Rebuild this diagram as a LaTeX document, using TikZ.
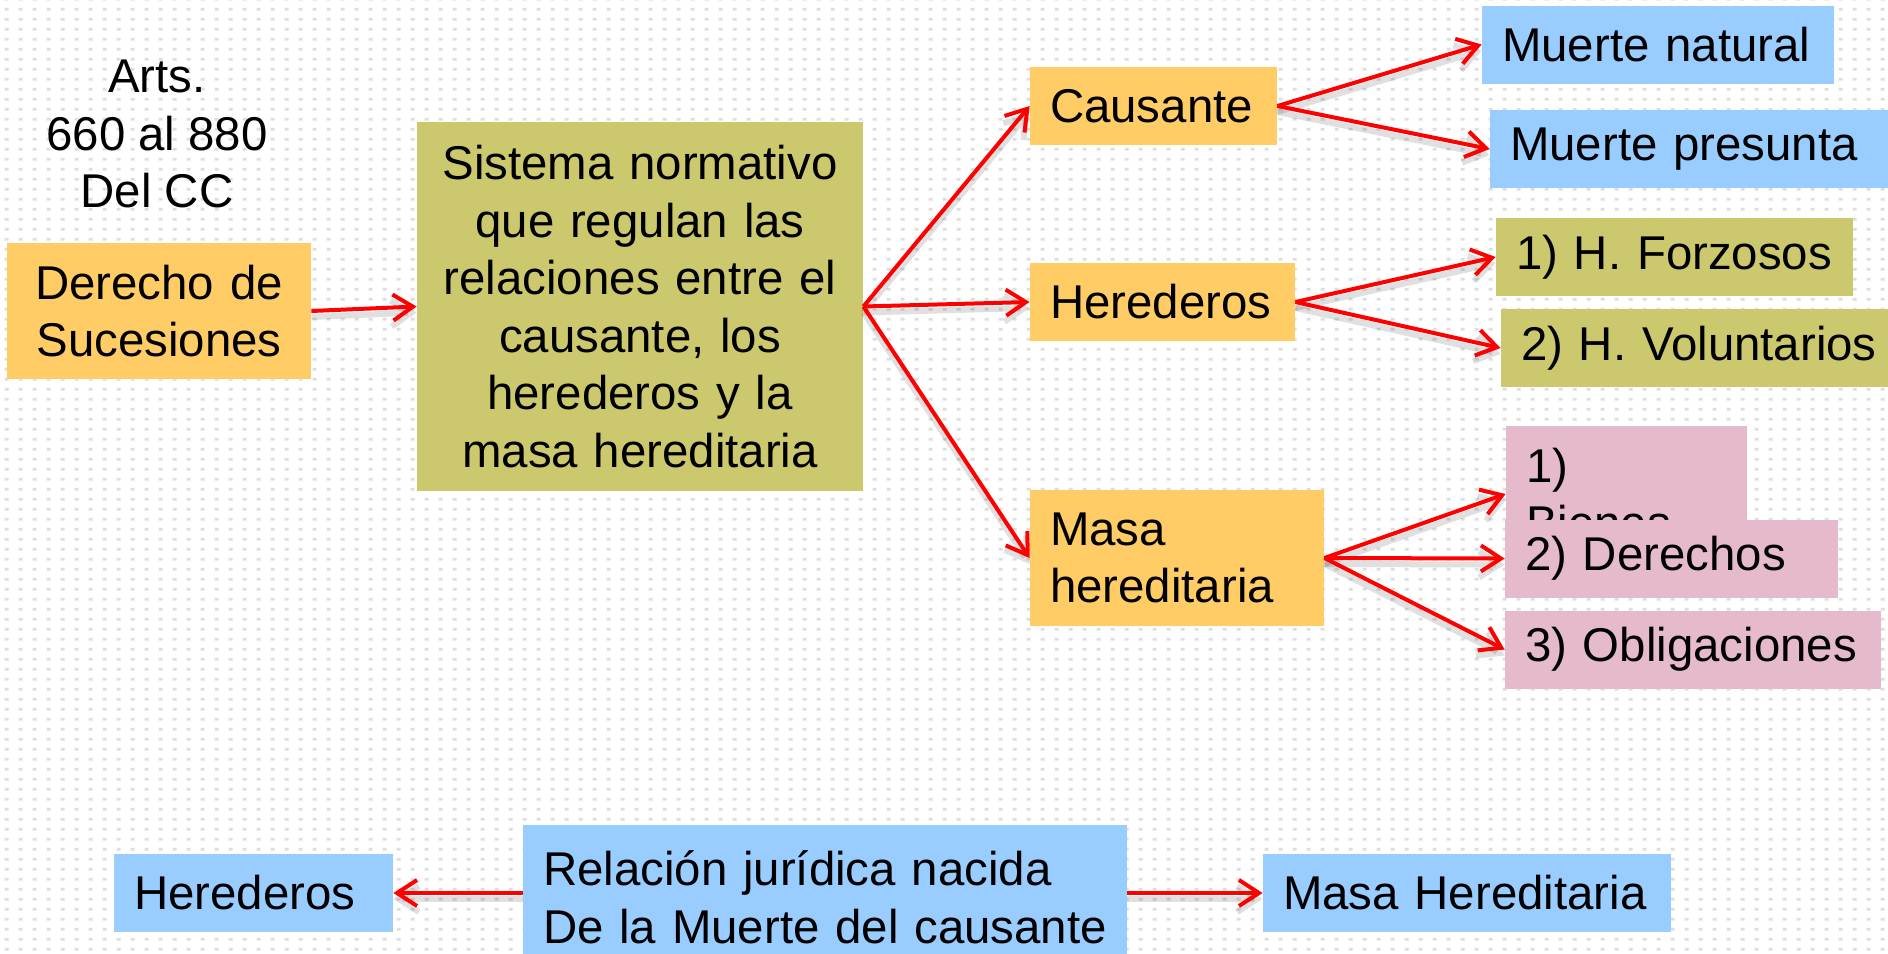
\documentclass[tikz,border=0pt]{standalone}
\usepackage{fontspec}
\setmainfont{Liberation Sans}
\usetikzlibrary{arrows.meta}
\usetikzlibrary{patterns.meta}

\definecolor{naranja}{RGB}{255,204,102}
\definecolor{oliva}{RGB}{204,200,110}
\definecolor{celeste}{RGB}{153,204,255}
\definecolor{rosa}{RGB}{229,186,204}

\tikzdeclarepattern{
	name=puntos,
	type=uncolored,
	bounding box={(0pt,0pt) and (6.85pt,5.05pt)},
	tile size={(6.85pt,5.05pt)},
	code={\fill (2.4pt,1.8pt) rectangle (4.4pt,3.3pt);}
}

\tikzset{
	caja/.style={rectangle, inner xsep=10pt, inner ysep=0pt, align=left, font=\fontsize{23.7}{28.8}\selectfont,
		execute at begin node={\hyphenpenalty=10000\exhyphenpenalty=10000}},
	uno/.style={caja, minimum height=39pt},
	dos/.style={caja, minimum height=68pt},
	flecha/.style={draw=red, line width=2pt, -{Straight Barb[length=10pt, width=13pt]},
		preaction={draw=black, opacity=0.12, line width=3pt, transform canvas={yshift=-3pt}}}
}

\begin{document}
\begin{tikzpicture}[x=0.5pt, y=-0.5pt]

	\useasboundingbox (0,0) rectangle (1888,953);
	\clip (0,0) rectangle (1888,953);
	\fill[white] (0,0) rectangle (1888,953);
	\fill[pattern=puntos, pattern color=black!13] (0,0) rectangle (1888,953);

	% columna izquierda
	\node[caja, align=center] (arts) at (157,134) {Arts.\\660 al 880\\Del CC};
	\node[dos, fill=naranja, text width=132pt, align=center] (derecho) at (159,311) {Derecho de\\Sucesiones};
	\node[caja, fill=oliva, text width=203pt, align=center, minimum height=184.5pt] (sistema) at (640,306.5) {Sistema normativo\\que regulan las\\relaciones entre el\\causante, los\\herederos y la\\masa hereditaria};

	% columna central
	\node[uno, fill=naranja, text width=103.5pt] (causante) at (1153.5,106) {Causante};
	\node[uno, fill=naranja, text width=112.5pt] (herederos) at (1162.5,302) {Herederos};
	\node[dos, fill=naranja, text width=127pt] (masa) at (1177,558) {Masa\\hereditaria};

	% columna derecha
	\node[uno, fill=celeste, text width=156pt] (natural) at (1658,44.5) {\mbox{Muerte natural}};
	\node[uno, fill=celeste, text width=190pt] (presunta) at (1700,149) {Muerte presunta};
	\node[uno, fill=oliva, text width=158.5pt] (forzosos) at (1674.5,257) {\mbox{1) H. Forzosos}};
	\node[uno, fill=oliva, text width=184.5pt] (voluntarios) at (1705.5,348) {2) H. Voluntarios};
	\node[dos, fill=rosa, text width=100.5pt] (bienes) at (1626.5,494) {1)\\Bienes};
	\node[uno, fill=rosa, text width=146.5pt] (derechos) at (1671.5,558.5) {2) Derechos};
	\node[uno, fill=rosa, text width=168pt] (obligaciones) at (1693,649.5) {\mbox{3) Obligaciones}};

	% fila de abajo
	\node[uno, fill=celeste, text width=119.5pt] (herederosB) at (253.5,893) {Herederos};
	\node[caja, fill=celeste, text width=282pt, minimum height=72.5pt] (relacion) at (825,897.5) {\mbox{Relación jurídica nacida}\\\mbox{De la Muerte del causante}};
	\node[uno, fill=celeste, text width=184pt] (masaB) at (1467,893) {\mbox{Masa Hereditaria}};

	\draw[flecha] (derecho.east) -- (sistema.west);
	\foreach \nodo in {causante, herederos, masa}
		\draw[flecha] (sistema.east) -- (\nodo.west);
	\foreach \nodo in {natural, presunta}
		\draw[flecha] (causante.east) -- (\nodo.west);
	\foreach \nodo in {forzosos, voluntarios}
		\draw[flecha] (herederos.east) -- (\nodo.west);
	\foreach \nodo in {bienes, derechos, obligaciones}
		\draw[flecha] (masa.east) -- (\nodo.west);

	\draw[flecha] (relacion.west |- herederosB.east) -- (herederosB.east);
	\draw[flecha] (relacion.east |- masaB.west) -- (masaB.west);

\end{tikzpicture}
\end{document}
